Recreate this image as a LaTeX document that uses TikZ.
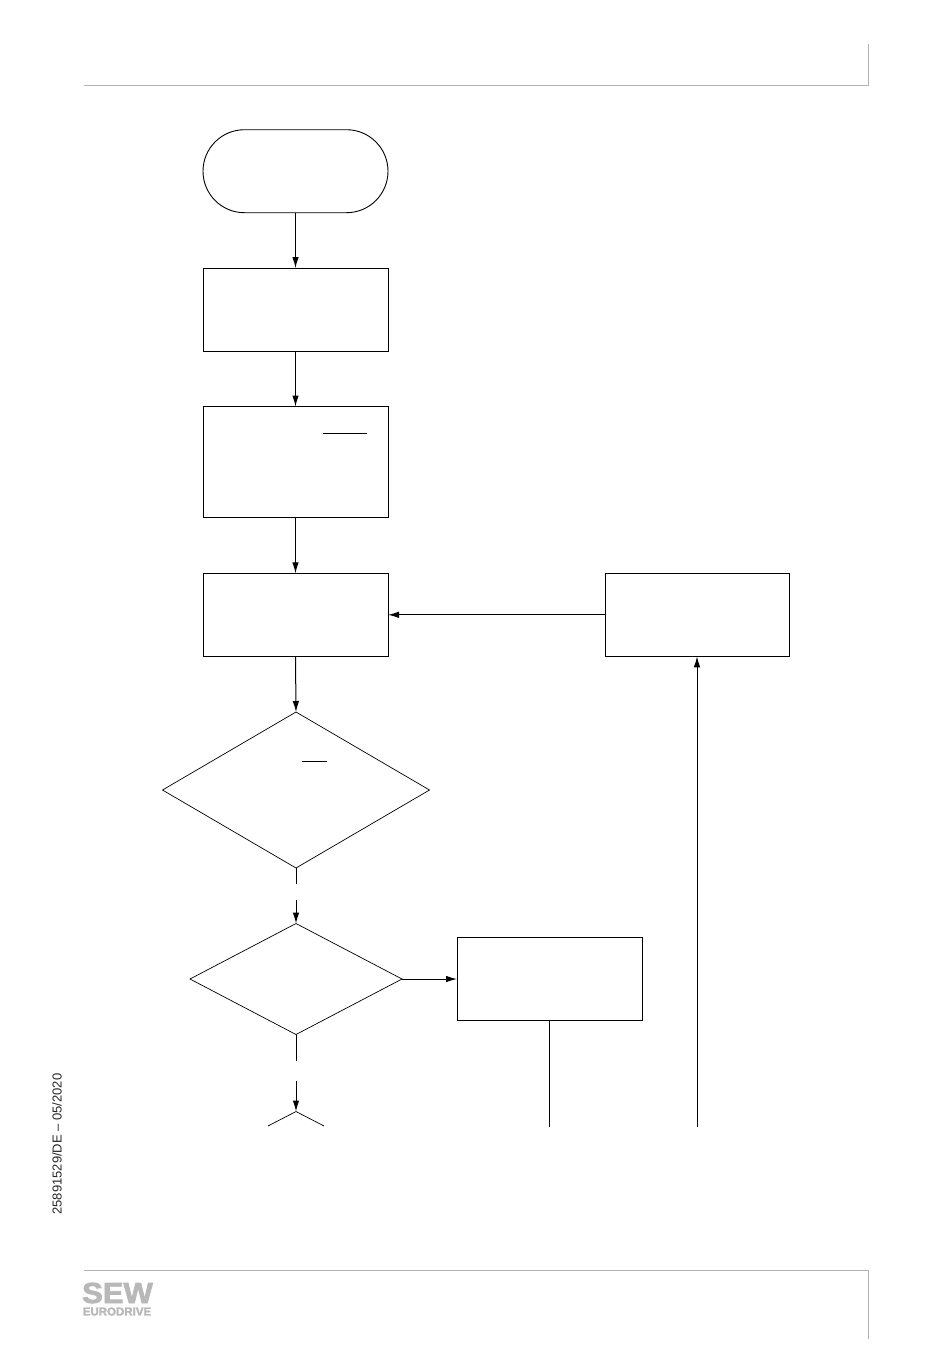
\documentclass[tikz,border=0pt]{standalone}
\usepackage{fontspec}
\setmainfont{Liberation Sans}
\newfontfamily\logofont[FakeBold=2.5]{Liberation Sans Bold}
\usetikzlibrary{shapes.geometric,arrows.meta}
\tikzset{
flowbox/.style={draw,line width=.9pt,minimum width=185pt,minimum height=83pt,inner sep=0pt,outer sep=0pt},
flowdiamond/.style={draw,line width=.7pt,diamond,inner sep=0pt,outer sep=0pt},
flowline/.style={line width=1pt},
flowarrow/.style={line width=1pt,-{Latex[length=11pt,width=6.5pt]}},
pagerule/.style={draw=black!30,line width=1pt}
}
\begin{document}
\begin{tikzpicture}[x=1pt,y=-1pt]
\useasboundingbox (0,0) rectangle (950,1353);
%
\draw[pagerule] (84,85.5) -- (868.5,85.5) -- (868.5,44);
\draw[pagerule] (84,1270) -- (868.5,1270) -- (868.5,1339);
\node[rotate=90,font=\fontsize{13}{14}\selectfont,black!85,inner sep=0pt] (docnumber) at (57,1144) {25891529/DE – 05/2020};
\node[font=\fontsize{29}{29}\logofont\selectfont,black!28,inner sep=0pt,xscale=1.07] (sewlogo) at (117.5,1293) {SEW};
\node[font=\fontsize{11.5}{12}\logofont\selectfont,black!28,inner sep=0pt] (eurologo) at (117,1311.5) {EURODRIVE};
%
\node[flowbox,rounded corners=41.5pt] (start) at (295.5,171.2) {};
\node[flowbox] (boxa) at (295.5,309.5) {};
\node[flowbox,minimum height=111pt] (boxb) at (295.5,462) {};
\node[flowbox] (boxc) at (295.5,614.8) {};
\node[flowbox,minimum width=184pt] (boxd) at (697,614.8) {};
\node[flowbox] (boxe) at (549.5,979) {};
\node[flowdiamond,minimum width=267pt,minimum height=156pt,aspect=1.71] (decida) at (296,790) {};
\node[flowdiamond,minimum width=212pt,minimum height=111pt,aspect=1.91] (decidb) at (296,979) {};
%
\draw[line width=.9pt] (boxb.north west) ++(120,27) -- ++(44,0);
\draw[line width=.8pt] (302,761) -- (327,761);
%
\coordinate (gapa) at (296,884);
\coordinate (gapb) at (296,900);
\coordinate (gapc) at (296,1061);
\coordinate (gapd) at (296,1081);
\coordinate (nexttop) at (296,1111.5);
\coordinate (nextleft) at (268,1126);
\coordinate (nextright) at (324,1126);
\coordinate (boxeend) at (549.5,1127);
\coordinate (returnend) at (697,1127);
%
\draw[flowarrow] (start) -- (boxa);
\draw[flowarrow] (boxa) -- (boxb);
\draw[flowarrow] (boxb) -- (boxc);
\draw[flowarrow] (boxc.south) -- (decida.north);
\draw[flowarrow] (boxd) -- (boxc);
\draw[flowline] (decida.south) -- (gapa);
\draw[flowarrow] (gapb) -- (decidb.north);
\draw[flowline] (decidb.south) -- (gapc);
\draw[flowarrow] (gapd) -- (nexttop);
\draw[flowarrow] (decidb.east) -- (boxe.west);
\draw[flowline] (boxe.south) -- (boxeend);
\draw[flowarrow] (returnend) -- (boxd.south);
\draw[line width=.7pt] (nextleft) -- (nexttop) -- (nextright);
\end{tikzpicture}
\end{document}
